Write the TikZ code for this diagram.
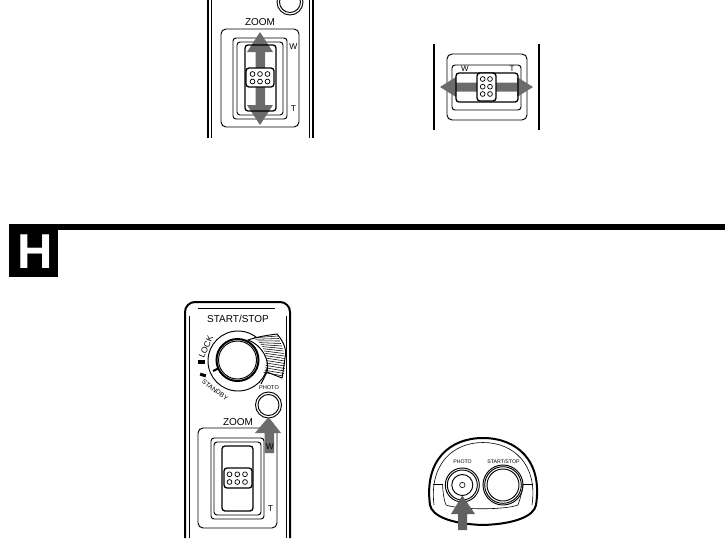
\documentclass[tikz,border=0pt]{standalone}
\usepackage{fontspec}
\setmainfont{Liberation Sans}
\tikzset{
  thickline/.style={line width=2pt},
  thinline/.style={line width=0.95pt},
  hairline/.style={line width=0.6pt},
  grayarrow/.style={fill=black!58,draw=none},
  rib/.style={line width=0.55pt},
  keyhole/.style={line width=0.7pt,fill=white},
  panellabel/.style={inner sep=0pt,font=\fontsize{10}{10}\selectfont},
  minilabel/.style={inner sep=0pt,font=\fontsize{5.2}{5.2}\selectfont}
}
\begin{document}
\begin{tikzpicture}[x=1pt,y=-1pt]
  \useasboundingbox (0,0) rectangle (725,554);

  % Upper left: vertical zoom switch
  \draw[thickline] (208,0) -- (208,138);
  \draw[thinline] (211.5,0) -- (211.5,138);
  \draw[thinline] (309,0) -- (309,138);
  \draw[thickline] (312.5,0) -- (312.5,138);
  \draw[thinline] (290,2) circle (13);
  \draw[thinline] (290,2) circle (10.5);
  \node[panellabel] (zoomtop) at (260,22) {ZOOM};
  \draw[thinline,rounded corners=5] (221,29) rectangle (299,127);
  \draw[thinline,rounded corners=3] (233,38) rectangle (287,119);
  \draw[thinline,rounded corners=3] (237,42) rectangle (283,115);
  \draw[grayarrow] (260,32) -- (273,52) -- (265,52) -- (265,105) -- (273,105)
    -- (260,125) -- (247,105) -- (255.5,105) -- (255.5,52) -- (247,52) -- cycle;
  \draw[thickline,line width=1.3pt,rounded corners=3] (245,45) rectangle (276,111);
  \draw[thickline,line width=1.3pt,fill=white,rounded corners=3] (246,68) rectangle (274,87);
  \foreach \x in {252.5,260,267.5}
    \foreach \y in {74,81.5}
      \draw[keyhole] (\x,\y) circle (2.4);
  \node[panellabel,font=\fontsize{8.5}{8.5}\selectfont] (wtop) at (293.5,47) {W};
  \node[panellabel,font=\fontsize{8.5}{8.5}\selectfont] (ttop) at (293.5,109) {T};

  % Upper right: horizontal zoom switch
  \draw[thickline] (434,44) -- (434,130);
  \draw[thickline] (539,44) -- (539,130);
  \draw[thinline,rounded corners=5] (447,54) rectangle (527,120);
  \draw[thinline,rounded corners=3] (452,65) rectangle (521,110);
  \node[panellabel,font=\fontsize{8}{8}\selectfont] (wright) at (465,69) {W};
  \node[panellabel,font=\fontsize{8}{8}\selectfont] (tright) at (512,69) {T};
  \draw[grayarrow] (440,87) -- (456,77) -- (456,82.5) -- (517,82.5) -- (517,77)
    -- (533,87) -- (517,97) -- (517,91.5) -- (456,91.5) -- (456,97) -- cycle;
  \draw[thickline,line width=1.3pt,rounded corners=3] (456,73) rectangle (518,102);
  \draw[thickline,line width=1.3pt,fill=white,rounded corners=3] (477,73) rectangle (496,101);
  \foreach \x in {482.7,490}
    \foreach \y in {79,86.7,94}
      \draw[keyhole] (\x,\y) circle (2.4);

  % Section heading
  \fill (8.5,224) rectangle (725,229.5);
  \fill (8.5,224) rectangle (58,277);
  \node[inner sep=0pt,text=white,font=\fontsize{49}{49}\selectfont\bfseries] (letter) at (35,251.5) {H};

  % Lower left: body of the unit
  \draw[thickline,rounded corners=10] (185,538) -- (185,302) -- (290,302) -- (290,538);
  \draw[thinline] (189,316) -- (189,538);
  \draw[thinline] (286.5,316) -- (286.5,538);
  \draw[thinline] (198,308) -- (275,308);
  \node[panellabel] (startstop) at (238,319) {START/STOP};

  % Dial and grip
  \draw[thinline] (238,361) circle (30);
  \draw[thinline,fill=white] (248,340) .. controls (260,336) and (270,335) .. (277,334)
    .. controls (284,342) and (287,350) .. (285,358) .. controls (284,366) and (283,372) .. (282,378)
    -- (267,372) .. controls (270,360) and (262,345) .. (248,340) -- cycle;
  \foreach \i in {0,...,16}
    \draw[rib] ({238+28*cos(56-\i*5)},{361-28*sin(56-\i*5)})
      -- ({278+7*sin(\i*8.2)},{336+\i*2.5});
  \draw[thinline] (267,372) -- (261,384);
  \draw[thickline,fill=white] (237.5,360) circle (21);
  \draw[thinline] (237.5,360) circle (19);
  \draw[thickline] (213,371) -- (218,368.5);
  \fill (198,360) rectangle (204.5,364);
  \fill[rotate around={-18:(203,375)}] (200,373.5) rectangle (206,376.5);
  \node[panellabel,font=\fontsize{8.5}{8.5}\selectfont,rotate=66] (lock) at (206,347) {LOCK};
  \node[panellabel,font=\fontsize{6.6}{6.6}\selectfont,rotate=-37] (standby) at (215,390) {STANDBY};
  \node[minilabel,font=\fontsize{5.6}{5.6}\selectfont] (photoleft) at (269,388) {PHOTO};

  % Photo button and lower zoom switch
  \draw[thinline] (268.5,405) circle (13);
  \draw[thinline] (268.5,405) circle (10.5);
  \node[panellabel] (zoomlow) at (238,422) {ZOOM};
  \draw[thinline,rounded corners=5] (198,428) rectangle (277,528);
  \draw[thinline,rounded corners=3] (211,438) rectangle (264,519);
  \draw[thinline,rounded corners=3] (214,442) rectangle (261,515);
  \draw[thickline,line width=1.3pt,rounded corners=3] (222,446) rectangle (253,511);
  \draw[thickline,line width=1.3pt,fill=white,rounded corners=3] (224,468) rectangle (252,488);
  \foreach \x in {229.5,237.3,245}
    \foreach \y in {474.3,482}
      \draw[keyhole] (\x,\y) circle (2.4);
  \draw[grayarrow] (268.5,417) -- (281,433) -- (274,433) -- (274,453) -- (264.5,453)
    -- (264.5,433) -- (255,433) -- cycle;
  \node[panellabel,font=\fontsize{8.5}{8.5}\selectfont] (wlow) at (270,447) {W};
  \node[panellabel,font=\fontsize{8.5}{8.5}\selectfont] (tlow) at (270.5,509) {T};

  % Lower right: dome with the two buttons
  \draw[thickline] (430,505) .. controls (424,460) and (450,438) .. (483,438)
    .. controls (516,438) and (543,460) .. (536,505)
    .. controls (534,516) and (515,524) .. (483,525)
    .. controls (451,524) and (432,516) .. (430,505) -- cycle;
  \draw[hairline] (434,505) .. controls (429,464) and (453,442.5) .. (483,442.5)
    .. controls (513,442.5) and (538,464) .. (532,505);
  \draw[hairline] (433,484) -- (442.5,484);
  \draw[hairline] (523,484) -- (533,484);
  \draw[hairline] (442.5,484) .. controls (443,494) and (444,500) .. (446,505)
    .. controls (460,510) and (505,510) .. (518,505)
    .. controls (520,500) and (522,492) .. (523,484);
  \node[minilabel] (photoright) at (462.5,462) {PHOTO};
  \node[minilabel] (startright) at (503.5,462) {START/STOP};
  \draw[thinline] (462.3,485) circle (17);
  \draw[thinline] (462.3,485) circle (15);
  \draw[thinline] (462.3,485) circle (10.5);
  \draw[hairline] (462.3,485) circle (2.7);
  \draw[thinline] (503,485) circle (20);
  \draw[thinline] (503,485) circle (18.3);
  \draw[thinline] (503,485) circle (16);
  \draw[grayarrow,fill=black!62] (462.3,495.5) -- (475,514) -- (467,514) -- (467,530) -- (458,530)
    -- (458,514) -- (451,514) -- cycle;
\end{tikzpicture}
\end{document}
